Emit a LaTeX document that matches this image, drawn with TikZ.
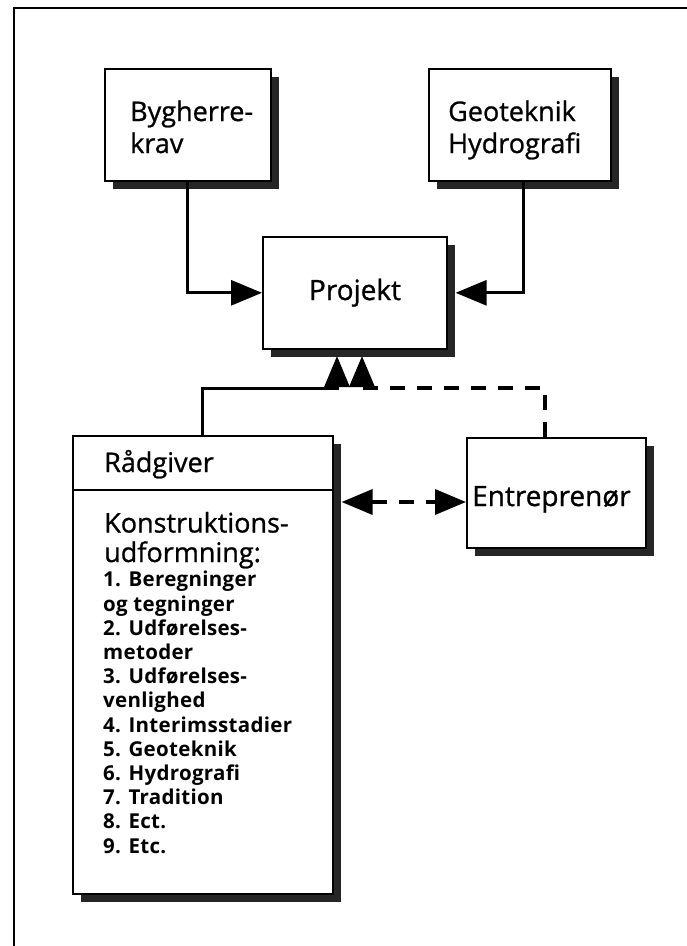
\documentclass[tikz,border=0pt]{standalone}
\usepackage{fontspec}
\setmainfont{Open Sans}
\newfontfamily\medfont{Open Sans}[FakeBold=0.9]
\newfontfamily\listfont{Open Sans Bold}[LetterSpace=1.5]
\usetikzlibrary{arrows.meta,shadows}
\begin{document}
\begin{tikzpicture}[x=1pt,y=-1pt,
  box/.style={draw=black,line width=1.6pt,fill=white,inner sep=0pt,
    drop shadow={shadow xshift=8pt,shadow yshift=-8pt,fill=black!85,opacity=1}},
  tip/.tip={Triangle[length=31pt,width=25pt]},
  conn/.style={line width=3pt,-tip},
  dconn/.style={conn,line width=3.6pt,dash pattern=on 15pt off 12pt},
  head/.style={inner sep=0pt,anchor=base west,align=left,font=\fontsize{27}{32}\medfont},
  list/.style={inner sep=0pt,anchor=base west,align=left,font=\fontsize{20.5}{24.2}\listfont}]
\useasboundingbox (0,0) rectangle (687,946);
% frame
\draw[line width=2pt] (14,946) -- (14,8) -- (687,8);
% boxes
\node[box,minimum width=166pt,minimum height=112pt,anchor=north west] (byg) at (104,68) {};
\node[box,minimum width=182pt,minimum height=112pt,anchor=north west] (geo) at (428,68) {};
\node[box,minimum width=184pt,minimum height=112pt,anchor=north west] (proj) at (262,236) {};
\node[box,minimum width=260pt,minimum height=458pt,anchor=north west] (raad) at (72,435) {};
\node[box,minimum width=179pt,minimum height=110pt,anchor=north west] (entr) at (466,437) {};
\draw[line width=1.6pt] (raad.west |- 0,490) -- (raad.east |- 0,490);
% texts (anchor = baseline of last line)
\node[head] (tbyg) at (130,153) {Bygherre-\\krav};
\node[head] (tgeo) at (448,153) {Geoteknik\\Hydrografi};
\node[head,anchor=base,font=\fontsize{28}{32}\medfont] (tproj) at (355,300) {Projekt};
\node[head] (traad) at (104,472) {Rådgiver};
\node[head,font=\fontsize{27}{29.5}\medfont] (tkon) at (104,562) {Konstruktions-\\udformning:};
\node[list] (tlist) at (103,853) {1. Beregninger\\og tegninger\\2. Udførelses-\\metoder\\3. Udførelses-\\venlighed\\4. Interimsstadier\\5. Geoteknik\\6. Hydrografi\\7. Tradition\\8. Ect.\\9. Etc.};
\node[head,font=\fontsize{28}{32}\medfont] (tentr) at (472,506) {Entreprenør};
% connectors
\draw[conn] (byg.south) |- (proj.west);
\draw[conn] ([xshift=4pt]geo.south) |- ([xshift=8pt]proj.east);
\coordinate (tipA) at (337,356);
\coordinate (tipB) at (362,356);
\coordinate (jA) at (337,388);
\coordinate (jB) at (362,388);
\coordinate (jE) at (545,388);
\draw[conn] (raad.north) |- (jA) -- (tipA);
\draw[dconn] (entr.north -| jE) -- (jE) -- (jB) -- (tipB);
\draw[dconn,tip-tip] ([xshift=8pt]raad.east |- 0,502) -- (entr.west |- 0,502);
\end{tikzpicture}
\end{document}
